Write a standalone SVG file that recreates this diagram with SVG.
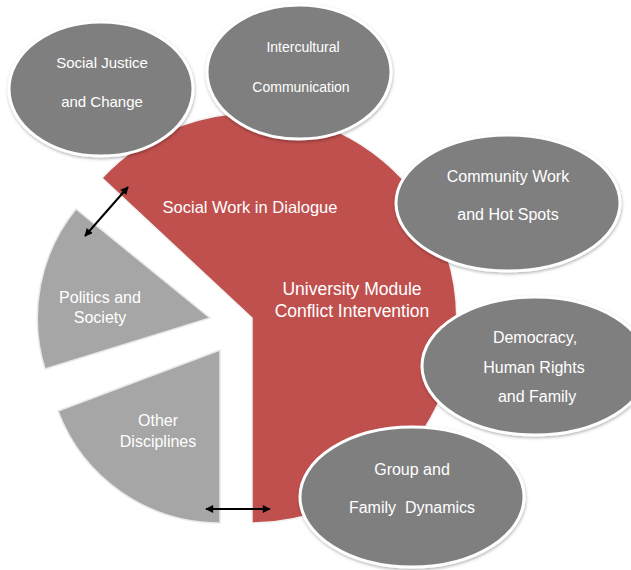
<svg xmlns="http://www.w3.org/2000/svg" width="631" height="570" viewBox="0 0 631 570">
<style>
.slice-red{fill:#c0504d;stroke:#f2f2f2;stroke-width:1.5}
.slice-gray{fill:#a6a6a6;stroke:#e8e8e8;stroke-width:1.5}
.oval{fill:#7f7f7f;stroke:#ffffff;stroke-width:3;filter:url(#sh)}
text{font-family:"Liberation Sans",Arial,sans-serif;fill:#ffffff;text-anchor:middle}
.conn{stroke:#000;stroke-width:2;fill:none;marker-start:url(#ah);marker-end:url(#ah)}
</style>
<defs>
<filter id="sh" x="-10%" y="-10%" width="120%" height="125%">
<feDropShadow dx="0.5" dy="1.5" stdDeviation="1.5" flood-color="#000" flood-opacity="0.3"/>
</filter>
<marker id="ah" viewBox="0 0 10 10" refX="9" refY="5" markerWidth="5" markerHeight="4" orient="auto-start-reverse" markerUnits="strokeWidth">
<path d="M0 0 L10 5 L0 10 Z" fill="#000"/>
</marker>
</defs>
<rect width="631" height="570" fill="#fff"/>

<g id="slice-main">
<path class="slice-red" d="M252 318 L102 178 A205 205 0 1 1 252 523 Z"/>
<text x="250" y="213" font-size="16.5">Social Work in Dialogue</text>
<text x="352" y="295" font-size="17.5">University Module</text>
<text x="352" y="317" font-size="17.5">Conflict Intervention</text>
</g>

<g id="slice-politics">
<path class="slice-gray" d="M210 318 L76 209 A173 173 0 0 0 45 369 Z"/>
<text x="100" y="303" font-size="16">Politics and</text>
<text x="100" y="323" font-size="16">Society</text>
</g>

<g id="slice-other">
<path class="slice-gray" d="M220 350 L58 411 A173 173 0 0 0 220 523 Z"/>
<text x="158" y="426" font-size="16">Other</text>
<text x="158" y="447" font-size="16">Disciplines</text>
</g>

<g id="node-social-justice">
<ellipse class="oval" cx="101" cy="89" rx="92" ry="67"/>
<text x="102" y="68" font-size="15">Social Justice</text>
<text x="102" y="107" font-size="15">and Change</text>
</g>

<g id="node-intercultural">
<ellipse class="oval" cx="299" cy="72" rx="92" ry="67"/>
<text x="303" y="52" font-size="14">Intercultural</text>
<text x="301" y="92" font-size="14">Communication</text>
</g>

<g id="node-community">
<ellipse class="oval" cx="508" cy="203" rx="112" ry="68"/>
<text x="508" y="182" font-size="16">Community Work</text>
<text x="508" y="220" font-size="16">and Hot Spots</text>
</g>

<g id="node-democracy">
<ellipse class="oval" cx="535" cy="366" rx="113" ry="69"/>
<text x="535" y="343" font-size="16">Democracy,</text>
<text x="534" y="373" font-size="16">Human Rights</text>
<text x="537" y="402" font-size="16">and Family</text>
</g>

<g id="node-group">
<ellipse class="oval" cx="412" cy="497" rx="112" ry="70"/>
<text x="412" y="475" font-size="16">Group and</text>
<text x="412" y="513" font-size="16" xml:space="preserve" style="white-space:pre">Family  Dynamics</text>
</g>

<g id="connectors">
<line class="conn" x1="85" y1="236" x2="128" y2="187"/>
<line class="conn" x1="206" y1="509" x2="270" y2="509"/>
</g>
</svg>
